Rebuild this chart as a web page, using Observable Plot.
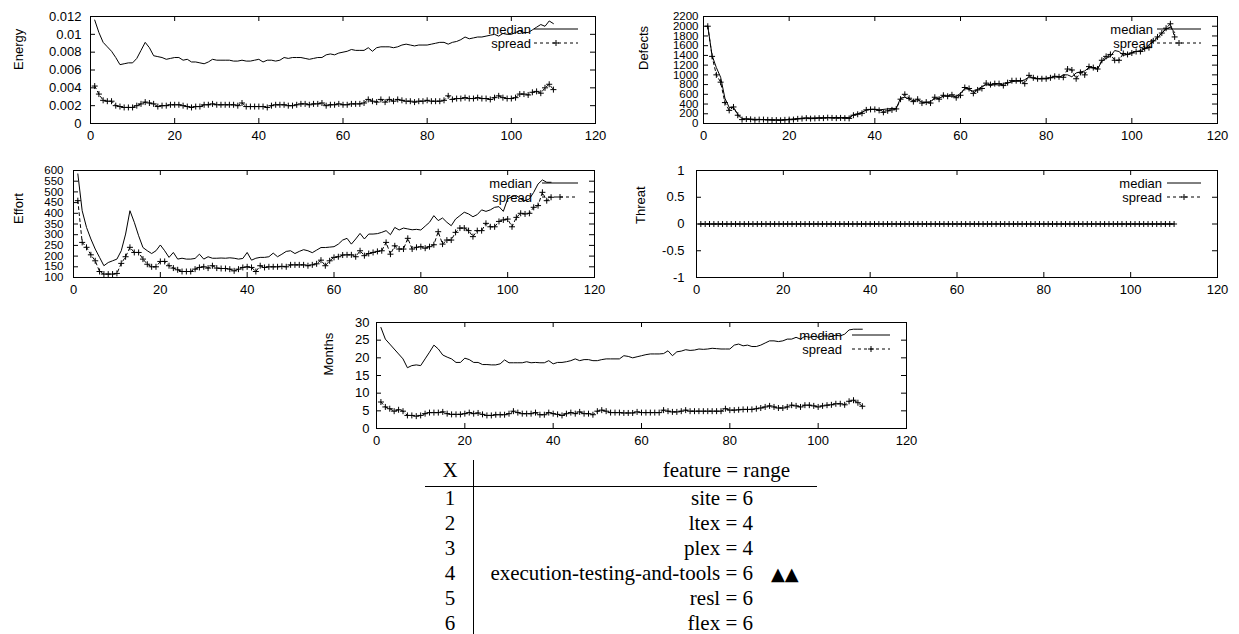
<!DOCTYPE html>
<html><head><meta charset="utf-8">
<script src="https://cdn.jsdelivr.net/npm/d3@7"></script>
<script src="https://cdn.jsdelivr.net/npm/@observablehq/plot@0.6"></script>
<style>
html,body{margin:0;padding:0;background:#fff;}
body{width:1239px;height:634px;overflow:hidden;position:relative;font-family:"Liberation Sans",Arial,sans-serif;}
.panel{position:absolute;}
#overlay{position:absolute;left:0;top:0;pointer-events:none;}
</style></head><body>
<div id="root"></div>
<script>
// ---------------- data ----------------
const xTickValues = [0, 20, 40, 60, 80, 100, 120];
const legendLabels = ["median", "spread"];

const energyMedian = [0.0116,0.0102,0.0091,0.0086,0.0081,0.0074,0.0066,0.0067,0.0068,0.0068,
0.0073,0.0082,0.0091,0.0085,0.0076,0.0075,0.0074,0.0072,0.0073,0.0074,
0.0074,0.0071,0.0072,0.0069,0.0069,0.0068,0.0067,0.0069,0.0072,0.0071,
0.0071,0.0071,0.0071,0.0070,0.0070,0.0071,0.0070,0.0070,0.0071,0.0072,
0.0069,0.0071,0.0071,0.0070,0.0071,0.0074,0.0073,0.0074,0.0074,0.0074,
0.0073,0.0072,0.0073,0.0074,0.0074,0.0077,0.0078,0.0077,0.0079,0.0080,
0.0081,0.0083,0.0082,0.0082,0.0082,0.0085,0.0081,0.0085,0.0086,0.0086,
0.0086,0.0085,0.0086,0.0088,0.0089,0.0088,0.0087,0.0088,0.0088,0.0088,
0.0089,0.0090,0.0091,0.0091,0.0089,0.0091,0.0092,0.0094,0.0097,0.0095,
0.0096,0.0097,0.0097,0.0098,0.0099,0.0100,0.0098,0.0101,0.0100,0.0100,
0.0102,0.0104,0.0102,0.0102,0.0105,0.0108,0.0111,0.0109,0.0115,0.0112];
const energySpread = [0.0042,0.0033,0.0026,0.0025,0.0025,0.0020,0.0019,0.0018,0.0018,0.0018,
0.0020,0.0022,0.0024,0.0023,0.0022,0.0019,0.0020,0.0020,0.0021,0.0021,
0.0021,0.0020,0.0019,0.0018,0.0019,0.0019,0.0021,0.0021,0.0022,0.0021,
0.0021,0.0021,0.0021,0.0021,0.0020,0.0023,0.0019,0.0019,0.0019,0.0019,
0.0019,0.0018,0.0020,0.0021,0.0021,0.0021,0.0020,0.0020,0.0021,0.0022,
0.0022,0.0021,0.0022,0.0022,0.0023,0.0020,0.0021,0.0021,0.0022,0.0021,
0.0021,0.0022,0.0022,0.0022,0.0023,0.0027,0.0025,0.0024,0.0027,0.0024,
0.0027,0.0025,0.0027,0.0026,0.0025,0.0025,0.0024,0.0025,0.0025,0.0026,
0.0025,0.0025,0.0025,0.0026,0.0031,0.0027,0.0028,0.0028,0.0029,0.0028,
0.0028,0.0029,0.0028,0.0028,0.0027,0.0029,0.0031,0.0029,0.0028,0.0028,
0.0029,0.0033,0.0033,0.0032,0.0035,0.0036,0.0034,0.0040,0.0044,0.0038];

const defectsMedian = [2000,1400,1150,950,520,330,330,190,100,95,
90,85,85,80,80,80,75,75,80,85,
95,100,110,115,115,115,120,120,120,120,
125,120,125,120,180,200,230,280,290,290,
280,290,300,310,310,520,540,500,470,490,
440,430,450,520,520,560,570,560,560,620,
720,700,660,700,760,800,780,800,790,810,
830,860,870,870,900,960,930,920,930,930,
940,960,950,1000,1000,960,1040,1060,1080,1150,
1140,1120,1280,1340,1380,1500,1480,1400,1420,1460,
1480,1500,1530,1620,1680,1760,1860,1940,1980,1870];
const defectsSpread = [2000,1380,1000,850,430,270,340,170,80,90,
85,75,80,80,75,70,70,65,75,80,
80,95,100,110,100,105,110,110,120,115,
110,115,110,105,170,190,210,280,290,290,
270,230,260,280,300,500,600,520,450,500,
420,440,420,540,500,580,560,590,530,580,
740,720,620,690,720,830,800,820,820,780,
840,880,880,880,820,990,940,920,920,920,
940,970,960,950,1120,1100,920,1050,1000,1170,
1150,1120,1300,1380,1420,1300,1300,1440,1420,1450,
1480,1480,1540,1560,1700,1780,1860,1960,2050,1780];

const effortMedian = [584,412,334,280,233,194,155,170,178,186,
225,303,412,358,295,240,225,212,225,252,
225,194,217,186,190,186,186,189,209,186,
197,190,190,191,190,192,190,186,189,217,
181,190,194,194,197,214,197,209,222,225,
212,222,230,225,216,228,240,240,242,244,
256,275,283,256,280,306,280,303,303,305,
311,319,300,334,322,331,327,323,325,322,
340,358,389,366,378,358,342,373,389,405,
397,384,394,416,409,416,428,431,409,467,
478,483,467,459,467,498,537,556,545,545];
const effortSpread = [459,264,241,206,178,128,116,116,116,119,
166,197,241,217,217,186,162,150,150,175,
175,155,144,136,128,128,128,139,147,150,
144,155,144,142,142,139,131,139,147,150,
147,128,155,147,150,150,150,152,150,159,
159,159,159,155,159,164,181,155,178,194,
197,205,206,206,197,225,202,212,217,222,
225,264,209,248,233,233,283,233,241,244,
237,244,253,314,256,275,275,311,331,331,
319,291,319,319,353,337,337,362,369,373,
337,381,400,397,400,428,436,498,459,475];

const threatMedian = [0,0,0,0,0,0,0,0,0,0,0,0,0,0,0,0,0,0,0,0,0,0,0,0,0,0,0,0,0,0,0,0,0,0,0,0,0,0,0,0,0,0,0,0,0,0,0,0,0,0,0,0,0,0,0,
0,0,0,0,0,0,0,0,0,0,0,0,0,0,0,0,0,0,0,0,0,0,0,0,0,0,0,0,0,0,0,0,0,0,0,0,0,0,0,0,0,0,0,0,0,0,0,0,0,0,0,0,0,0,0];
const threatSpread = [0,0,0,0,0,0,0,0,0,0,0,0,0,0,0,0,0,0,0,0,0,0,0,0,0,0,0,0,0,0,0,0,0,0,0,0,0,0,0,0,0,0,0,0,0,0,0,0,0,0,0,0,0,0,0,
0,0,0,0,0,0,0,0,0,0,0,0,0,0,0,0,0,0,0,0,0,0,0,0,0,0,0,0,0,0,0,0,0,0,0,0,0,0,0,0,0,0,0,0,0,0,0,0,0,0,0,0,0,0,0];

const monthsMedian = [28.6,25.3,23.9,22.5,21.1,19.7,17.2,17.8,18.0,17.8,
19.7,21.6,23.6,22.5,20.8,20.2,19.7,18.7,18.7,19.9,
19.5,18.7,18.7,18.1,18.1,18.0,18.0,18.3,19.4,18.6,
18.6,18.6,18.6,18.9,18.6,18.7,18.6,18.6,19.2,18.3,
18.7,18.7,18.9,19.2,19.7,19.2,19.5,19.5,19.2,19.2,
19.5,19.7,19.7,19.7,19.7,20.6,20.4,20.0,20.3,20.6,
20.9,21.1,21.1,21.1,21.2,22.0,20.6,21.7,21.9,22.3,
22.1,22.2,22.5,22.4,22.5,22.7,22.6,22.5,22.5,22.5,
23.6,23.9,23.4,23.6,23.2,23.2,23.6,24.2,24.8,24.8,
24.6,24.8,25.3,25.3,25.8,25.3,26.1,25.8,26.1,25.8,
26.2,26.2,26.1,26.4,26.2,26.7,27.9,28.1,28.1,28.1];
const monthsSpread = [7.5,6.1,5.6,4.9,5.3,4.9,3.7,3.7,3.5,3.7,
4.2,4.5,4.5,4.5,4.7,4.2,4.0,4.0,4.0,4.2,
4.5,4.2,4.4,4.0,3.7,3.7,3.9,3.9,3.9,4.2,
4.9,4.5,4.2,4.2,4.2,4.5,3.9,3.9,4.5,4.2,
4.0,3.7,4.2,4.5,4.2,4.7,4.2,4.2,3.9,4.9,
5.2,4.9,4.5,4.5,4.5,4.4,4.4,4.4,4.7,4.5,
4.5,4.5,4.5,4.5,5.2,4.9,4.7,4.7,4.9,5.2,
4.9,4.9,4.9,4.9,4.9,4.9,4.9,4.9,5.6,5.2,
5.2,5.3,5.4,5.4,5.4,5.6,5.8,6.1,6.4,6.1,
5.8,5.8,6.1,6.6,6.4,6.1,6.6,6.6,6.4,6.1,
6.4,6.6,6.7,7.0,7.0,6.7,7.7,8.0,7.3,6.3];

const energyTicks = [0, 0.002, 0.004, 0.006, 0.008, 0.01, 0.012];
const defectsTicks = [0,200,400,600,800,1000,1200,1400,1600,1800,2000,2200];
const effortTicks = [100,150,200,250,300,350,400,450,500,550,600];
const threatTicks = [-1,-0.5,0,0.5,1];
const monthsTicks = [0,5,10,15,20,25,30];

const tableX = ["1","2","3","4","5","6"];
const tableFeature = ["site = 6","ltex = 4","plex = 4","execution-testing-and-tools = 6","resl = 6","flex = 6"];
const tableFlag = ["","","","▲▲","",""];
const tableHeader = ["X", "feature = range"];

// ---------------- drawing ----------------
const root = document.getElementById("root");
const legendItems = [];

// gnuplot-style "+" point: arms of length sqrt(size/π) (i.e. the dot radius r)
const plusSymbol = {
  draw(context, size) {
    const r = Math.sqrt(size / Math.PI);
    context.moveTo(-r, 0); context.lineTo(r, 0);
    context.moveTo(0, -r); context.lineTo(0, r);
  }
};

function panel(cfg) {
  const {left, top, width, height, mL, mR, mT, mB, domain, ticks, fmt, median, spread, label, labelOff, pad, leg, tickFont = 13} = cfg;
  const innerW = width - mL - mR, innerH = height - mT - mB;
  const [y0, y1] = domain;
  const tl = 5;
  const kx = tl / innerW * 120, ky = tl / innerH * (y1 - y0);
  const med = median.map((v, i) => ({x: i + 1, y: v}));
  const spr = spread.map((v, i) => ({x: i + 1, y: v}));
  const xin = xTickValues.slice(1, -1), yin = ticks.slice(1, -1);
  const svg = Plot.plot({
    width, height, marginLeft: mL, marginRight: mR, marginTop: mT, marginBottom: mB,
    x: {domain: [0, 120], label: null},
    y: {domain, label: null},
    style: {fontFamily: "'Liberation Sans', Arial, sans-serif", fontSize: "13px", color: "black", background: "transparent", overflow: "visible"},
    marks: [
      Plot.axisX({ticks: xTickValues, tickSize: 0, tickPadding: 7, tickFormat: d => String(d), label: null}),
      Plot.axisY({ticks, tickSize: 0, tickPadding: pad, tickFormat: fmt, label: null, fontSize: tickFont}),
      Plot.ruleX(xin, {x: d => d, y1: y0, y2: y0 + ky, stroke: "black"}),
      Plot.ruleX(xin, {x: d => d, y1: y1 - ky, y2: y1, stroke: "black"}),
      Plot.ruleY(yin, {y: d => d, x1: 0, x2: kx, stroke: "black"}),
      Plot.ruleY(yin, {y: d => d, x1: 120 - kx, x2: 120, stroke: "black"}),
      Plot.lineY(spr, {x: "x", y: "y", stroke: "black", strokeWidth: 1, strokeDasharray: "3,3"}),
      Plot.dot(spr, {x: "x", y: "y", symbol: plusSymbol, r: 3, fill: "none", stroke: "black", strokeWidth: 1}),
      Plot.lineY(med, {x: "x", y: "y", stroke: "black", strokeWidth: 1}),
      Plot.frame({stroke: "black", strokeWidth: 1}),
      Plot.text([label], {text: d => d, frameAnchor: "left", dx: -labelOff, rotate: -90, fontSize: 13, fill: "black"})
    ]
  });
  const div = document.createElement("div");
  div.className = "panel";
  div.style.left = left + "px";
  div.style.top = top + "px";
  div.appendChild(svg);
  root.appendChild(div);
  legendItems.push({right: left + width - mR, top: top + mT, ...leg});
}

const fmt3 = d => String(Math.round(d * 1000) / 1000);
const fmtPlain = d => String(d);

panel({left: 0, top: 0, width: 620, height: 150, mL: 90, mR: 25, mT: 16, mB: 27,
  domain: [0, 0.012], ticks: energyTicks, fmt: fmt3, median: energyMedian, spread: energySpread,
  label: "Energy", labelOff: 72, pad: 9, leg: {text: 64, l0: 61, l1: 17}});
panel({left: 620, top: 0, width: 619, height: 150, mL: 83, mR: 22, mT: 16, mB: 27,
  domain: [0, 2200], ticks: defectsTicks, fmt: fmtPlain, median: defectsMedian, spread: defectsSpread,
  label: "Defects", labelOff: 60, pad: 5, tickFont: 11.5, leg: {text: 64, l0: 60, l1: 16}});
panel({left: 0, top: 150, width: 620, height: 155, mL: 73, mR: 26, mT: 20, mB: 28,
  domain: [100, 600], ticks: effortTicks, fmt: fmtPlain, median: effortMedian, spread: effortSpread,
  label: "Effort", labelOff: 55, pad: 10, tickFont: 11.5, leg: {text: 62, l0: 52, l1: 16}});
panel({left: 620, top: 150, width: 619, height: 155, mL: 76, mR: 22, mT: 20, mB: 28,
  domain: [-1, 1], ticks: threatTicks, fmt: fmtPlain, median: threatMedian, spread: threatSpread,
  label: "Threat", labelOff: 56, pad: 12, leg: {text: 55, l0: 50, l1: 16}});
panel({left: 300, top: 305, width: 620, height: 150, mL: 76, mR: 14, mT: 17, mB: 27,
  domain: [0, 30], ticks: monthsTicks, fmt: fmtPlain, median: monthsMedian, spread: monthsSpread,
  label: "Months", labelOff: 48, pad: 7, leg: {text: 64, l0: 54, l1: 16}});

// overlay: legends + table
const ov = d3.select("body").append("svg").attr("id", "overlay").attr("width", 1239).attr("height", 634);
for (const L of legendItems) {
  legendLabels.forEach((name, i) => {
    const y = L.top + 13 + i * 14;
    ov.append("text").attr("x", L.right - L.text).attr("y", y).attr("text-anchor", "end")
      .attr("dominant-baseline", "central").attr("font-family", "'Liberation Sans', Arial, sans-serif")
      .attr("font-size", 13).text(name);
    const ln = ov.append("line").attr("x1", L.right - L.l0).attr("x2", L.right - L.l1)
      .attr("y1", y).attr("y2", y).attr("stroke", "black").attr("stroke-width", 1);
    if (i === 1) {
      ln.attr("stroke-dasharray", "3,3");
      const cx = L.right - (L.l0 + L.l1) / 2;
      ov.append("path").attr("d", `M${cx - 3},${y}H${cx + 3}M${cx},${y - 3}V${y + 3}`).attr("stroke", "black");
    }
  });
}

const serif = "'Liberation Serif', 'Times New Roman', serif";
const fs = 21;
ov.append("text").attr("x", 450).attr("y", 470).attr("text-anchor", "middle").attr("dominant-baseline", "central")
  .attr("font-family", serif).attr("font-size", fs).text(tableHeader[0]);
ov.append("text").attr("x", 790).attr("y", 470).attr("text-anchor", "end").attr("dominant-baseline", "central")
  .attr("font-family", serif).attr("font-size", fs).text(tableHeader[1]);
ov.append("line").attr("x1", 425).attr("x2", 817).attr("y1", 486.5).attr("y2", 486.5).attr("stroke", "black");
ov.append("line").attr("x1", 473.5).attr("x2", 473.5).attr("y1", 460).attr("y2", 634).attr("stroke", "black");
tableX.forEach((t, i) => {
  const y = 498 + i * 25;
  ov.append("text").attr("x", 450).attr("y", y).attr("text-anchor", "middle").attr("dominant-baseline", "central")
    .attr("font-family", serif).attr("font-size", fs).text(t);
  ov.append("text").attr("x", 753).attr("y", y).attr("text-anchor", "end").attr("dominant-baseline", "central")
    .attr("font-family", serif).attr("font-size", fs).text(tableFeature[i]);
  if (tableFlag[i]) ov.append("text").attr("x", 771).attr("y", y).attr("text-anchor", "start").attr("dominant-baseline", "central")
    .attr("font-family", "'DejaVu Sans', sans-serif").attr("font-size", 18).text(tableFlag[i]);
});
</script>
</body></html>
